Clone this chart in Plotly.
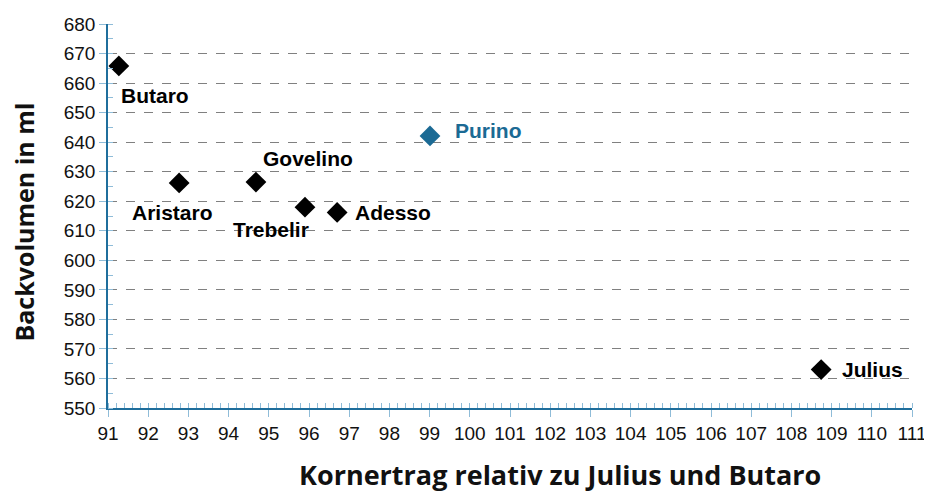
import plotly.graph_objects as go

names = ["Butaro", "Aristaro", "Govelino", "Trebelir", "Adesso", "Purino", "Julius"]
kornertrag = [91.27, 92.77, 94.68, 95.9, 96.7, 99.01, 108.74]
backvolumen = [665.8, 626.2, 626.5, 618.0, 616.2, 642.1, 563.0]
colors = ["#000000", "#000000", "#000000", "#000000", "#000000", "#1b6a94", "#000000"]

# label placement (px) relative to each point
label_anchor = ["left", "center", "left", "right", "left", "left", "left"]
label_dx = [0, -7, 5, 6, 16, 23, 19]
label_dy = [-30, -30, 24, -22, 0, 5, 0]

x_title = "Kornertrag relativ zu Julius und Butaro"
y_title = "Backvolumen in ml"

AXIS_BLUE = "#1f6e9c"
TICK_BLUE = "#8fbcd8"

fig = go.Figure()
fig.add_trace(go.Scatter(
    x=kornertrag, y=backvolumen, mode="markers",
    marker=dict(symbol="diamond", size=16, color=colors),
    hoverinfo="skip", showlegend=False,
))

for n, x, y, c, a, dx, dy in zip(names, kornertrag, backvolumen, colors, label_anchor, label_dx, label_dy):
    fig.add_annotation(
        x=x, y=y, text=n, showarrow=False, xshift=dx, yshift=dy, xanchor=a,
        font=dict(family="Liberation Sans, Arial, sans-serif", size=21, color=c, weight="bold"),
    )

# axis titles as annotations (positioned like the reference)
fig.add_annotation(
    text=x_title, xref="paper", yref="paper", x=0.562, y=-0.172,
    xanchor="center", yanchor="middle", showarrow=False, borderpad=0,
    font=dict(family="Open Sans, sans-serif", size=27, color="#111111", weight="bold"),
)
fig.add_annotation(
    text=y_title, xref="paper", yref="paper", x=-0.104, y=0.484, textangle=-90,
    xanchor="center", yanchor="middle", showarrow=False, borderpad=0,
    font=dict(family="Open Sans, sans-serif", size=25, color="#111111", weight="bold"),
)

common_x = dict(range=[91, 111], dtick=1, tick0=91, automargin=False, showgrid=False, zeroline=False)
common_y = dict(range=[550, 680], dtick=10, tick0=550, automargin=False, zeroline=False)

# page body has an 8px margin, so the figure is sized/offset to compensate
fig.update_layout(
    width=924, height=484,
    margin=dict(l=100, r=20, t=16, b=84),
    paper_bgcolor="white", plot_bgcolor="white",
    font=dict(family="Liberation Sans, Arial, sans-serif", size=19, color="#111111"),
    xaxis=dict(
        **common_x,
        showline=True, linecolor=AXIS_BLUE, linewidth=1.5,
        ticks="outside", ticklen=7, tickcolor=TICK_BLUE, tickwidth=1,
        minor=dict(dtick=0.2, ticks="inside", ticklen=5, tickcolor=TICK_BLUE, showgrid=False),
        tickfont=dict(size=19),
    ),
    yaxis=dict(
        **common_y,
        showgrid=True, gridcolor="#808080", griddash="dash", gridwidth=1,
        showline=True, linecolor=AXIS_BLUE, linewidth=1.5,
        ticks="outside", ticklen=7, tickcolor=TICK_BLUE, tickwidth=1,
        minor=dict(dtick=5, ticks="inside", ticklen=5, tickcolor=TICK_BLUE, showgrid=False),
        tickfont=dict(size=19),
    ),
    # overlay axes to give major ticks an inner half (crossing ticks)
    xaxis2=dict(**common_x, overlaying="x", side="bottom", anchor="y", showline=False,
                ticks="inside", ticklen=6, tickcolor=TICK_BLUE, showticklabels=False),
    yaxis2=dict(**common_y, overlaying="y", side="left", anchor="x", showline=False, showgrid=False,
                ticks="inside", ticklen=6, tickcolor=TICK_BLUE, showticklabels=False),
)

fig.write_html("out.html")
